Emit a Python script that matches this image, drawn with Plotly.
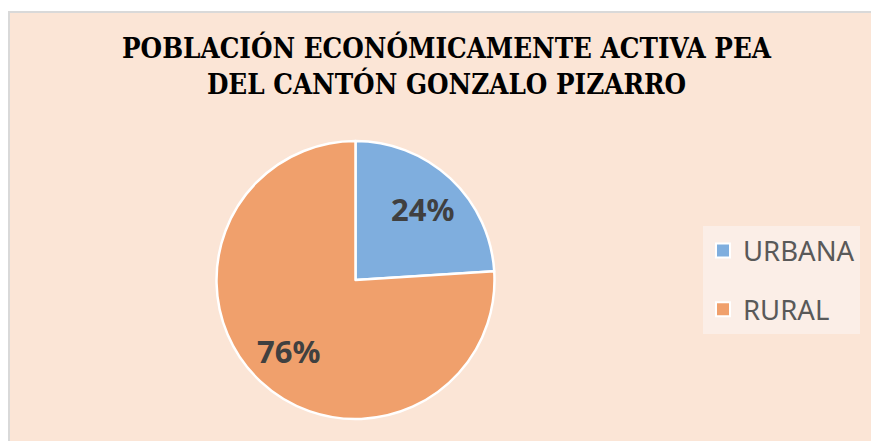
import math
import plotly.graph_objects as go

categories = ["URBANA", "RURAL"]
values = [24, 76]
colors = ["#7FAEDE", "#F0A06C"]
title_lines = ["POBLACIÓN ECONÓMICAMENTE ACTIVA PEA", "DEL CANTÓN GONZALO PIZARRO"]

W, H = 871, 441
# pie placement (pixels)
cx, cy, R = 355.5, 280.0, 139.0

fig = go.Figure()

fig.add_trace(go.Pie(
    labels=categories, values=values, sort=False, direction="clockwise", rotation=0,
    marker=dict(colors=colors, line=dict(color="white", width=2.5)),
    textinfo="none", showlegend=False, hoverinfo="label+percent",
    domain=dict(x=[(cx - R) / W, (cx + R) / W], y=[1 - (cy + R) / H, 1 - (cy - R) / H]),
))

for i, (c, col) in enumerate(zip(categories, colors)):
    fig.add_trace(go.Scatter(
        x=[None], y=[None], mode="markers", name=c, legendgroup=c,
        marker=dict(symbol="square", size=14, color=col, line=dict(color="white", width=2)),
    ))

# percentage labels placed along each slice bisector
total = sum(values)
annotations = []
cum = 0.0
for v in values:
    mid = (cum + v / 2) / total * 2 * math.pi
    cum += v
    px = cx + 0.705 * R * math.sin(mid)
    py = cy - 0.705 * R * math.cos(mid)
    annotations.append(dict(text=f"{round(100 * v / total)}%", x=px / W, y=1 - py / H,
                            xref="paper", yref="paper", xanchor="center", yanchor="middle",
                            showarrow=False,
                            font=dict(family="Noto Sans", size=31, color="#404040", weight="bold")))

annotations.append(dict(text="<br>".join(title_lines), x=446.5 / W, y=1 - 65 / H, xref="paper", yref="paper",
                        xanchor="center", yanchor="middle", showarrow=False,
                        font=dict(family="DejaVu Serif Condensed", size=27.5, color="#000000", weight="bold")))

fig.update_layout(
    width=W, height=H, margin=dict(l=0, r=0, t=0, b=0),
    paper_bgcolor="white", plot_bgcolor="rgba(0,0,0,0)",
    xaxis=dict(visible=False), yaxis=dict(visible=False),
    shapes=[dict(type="rect", xref="paper", yref="paper", x0=9 / W, x1=1.1, y0=-0.1, y1=1 - 12 / H,
                 fillcolor="#FBE5D6", line=dict(color="#D9D9D9", width=2), layer="below")],
    annotations=annotations,
    legend=dict(x=703 / W, y=1 - 226 / H, xanchor="left", yanchor="top", bgcolor="#FBEEE7",
                font=dict(family="Noto Sans", size=27.5, color="#595959"), tracegroupgap=20,
                entrywidth=122, entrywidthmode="pixels",
                itemclick=False, itemdoubleclick=False),
)

fig.write_html("out.html", config={"displayModeBar": False},
               post_script="document.body.style.margin='0';document.body.style.overflow='hidden';")
